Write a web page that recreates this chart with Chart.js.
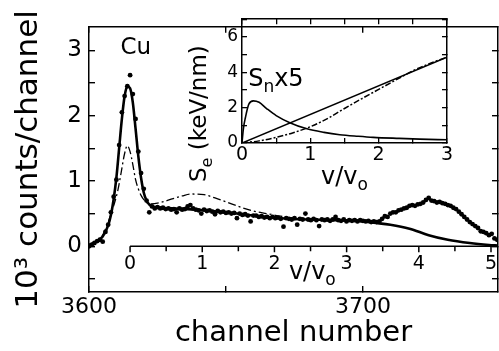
<!DOCTYPE html>
<html><head><meta charset="utf-8">
<script src="https://cdn.jsdelivr.net/npm/chart.js@4.4.0/dist/chart.umd.min.js"></script>
<style>
html,body{margin:0;padding:0;background:#fff;}
#wrap{position:relative;width:499px;height:351px;overflow:hidden;}
#main{position:absolute;left:0;top:0;}
#inset{position:absolute;left:180px;top:0;}
</style></head><body>
<div id="wrap">
<canvas id="main" width="499" height="351"></canvas>
<canvas id="inset" width="280" height="200"></canvas>
</div>
<script>
// ---------- main spectrum data ----------
const channels = [
3600,3601,3602,3603,3604,3605,3606,3607,3608,3609,3610,3611,3612,3613,3614,3615,3616,3617,3618,3619,3620,3621,3622,
3623,3624,3625,3626,3627,3628,3629,3630,3631,3632,3633,3634,3635,3636,3637,3638,3639,3640,3641,3642,3643,3644,3645,3646,3647,3648,3649,
3650,3651,3652,3653,3654,3655,3656,3657,3658,3659,3660,3661,3662,3663,3664,3665,3666,3667,3668,3669,3670,3671,3672,3673,3674,
3675,3676,3677,3678,3679,3680,3681,3682,3683,3684,3685,3686,3687,3688,3689,3690,3691,3692,3693,3694,3695,3696,3697,3698,3699,
3700,3701,3702,3703,3704,3705,3706,3707,3708,3709,3710,3711,3712,3713,3714,3715,3716,3717,3718,3719,3720,3721,3722,3723,3724,
3725,3726,3727,3728,3729,3730,3731,3732,3733,3734,3735,3736,3737,3738,3739,3740,3741,3742,3743,3744,3745,3746,3747,3748,3749];
const counts = [
0.00,0.02,0.05,0.08,0.10,0.07,0.22,0.33,0.52,0.76,1.02,1.55,2.05,2.30,2.45,2.62,2.33,1.95,1.45,1.12,0.88,0.70,0.52,
0.61,0.58,0.60,0.58,0.59,0.57,0.58,0.56,0.57,0.52,0.58,0.56,0.57,0.61,0.63,0.58,0.56,0.55,0.50,0.56,0.54,0.55,0.53,0.49,0.54,0.52,0.53,
0.51,0.52,0.50,0.51,0.43,0.50,0.48,0.49,0.47,0.38,0.47,0.47,0.45,0.46,0.44,0.45,0.43,0.45,0.43,0.44,0.42,0.30,0.43,0.42,0.41,
0.43,0.33,0.42,0.41,0.50,0.41,0.40,0.42,0.40,0.31,0.41,0.40,0.41,0.39,0.41,0.45,0.40,0.39,0.41,0.38,0.40,0.39,0.40,0.38,0.40,
0.39,0.38,0.39,0.37,0.38,0.37,0.38,0.42,0.46,0.45,0.50,0.52,0.52,0.55,0.56,0.58,0.59,0.62,0.63,0.62,0.64,0.65,0.67,0.71,0.74,
0.70,0.69,0.67,0.68,0.66,0.65,0.63,0.62,0.59,0.57,0.53,0.49,0.45,0.41,0.37,0.34,0.31,0.28,0.23,0.22,0.20,0.17,0.19,0.12,0.10];

// solid fit curve
const fitCh = [3600,3603,3605,3607,3608,3609,3610,3611,3612,3613,3614,3615,3616,3617,3618,3619,3620,3621,3622,3624,3630,3640,3650,3660,3670,3680,3690,3700,3704,3710,3717,3724,3731,3739,3746,3749.3];
const fitY  = [0.02,0.08,0.15,0.32,0.48,0.72,1.05,1.50,1.95,2.30,2.45,2.42,2.20,1.80,1.38,1.05,0.82,0.70,0.64,0.60,0.58,0.56,0.52,0.47,0.43,0.41,0.40,0.38,0.36,0.33,0.27,0.17,0.10,0.05,0.02,0.01];

// dash-dot curve
const altCh = [3600,3603,3605,3607,3609,3610.6,3611.7,3613,3614,3615,3616,3617,3618,3619,3620.3,3622,3626,3630,3634,3637,3642,3646,3652,3656,3660,3665,3670,3675,3680];
const altY  = [0.02,0.08,0.17,0.37,0.62,0.87,1.12,1.42,1.54,1.45,1.25,1.02,0.88,0.78,0.70,0.65,0.67,0.72,0.77,0.80,0.79,0.74,0.65,0.59,0.54,0.50,0.46,0.43,0.41];

// axes ticks / labels
const chTicks = [3600,3650,3700];
const chLabels = [3600,3700];
const yTicks = [-0.5,0,0.5,1,1.5,2,2.5,3];
const yLabels = [0,1,2,3];
const vTicks = [0,0.5,1,1.5,2,2.5,3,3.5,4,4.5,5];
const vLabels = [0,1,2,3,4,5];

// ---------- inset data ----------
const seV = [0,3];
const seY = [0,4.85];
const seAltV = [0,0.25,0.5,0.75,1,1.25,1.5,1.75,2,2.25,2.5,2.75,3];
const seAltY = [0,0.12,0.32,0.58,0.92,1.38,1.95,2.5,3.03,3.56,4.08,4.5,4.85];
const snV = [0,0.02,0.05,0.1,0.166,0.25,0.36,0.5,0.7,0.95,1.2,1.43,1.7,1.92,2.3,2.6,3];
const snY = [0,0.8,1.44,2.2,2.38,2.3,1.95,1.55,1.15,0.8,0.6,0.47,0.38,0.32,0.26,0.22,0.18];
const insXTicks = [0,0.5,1,1.5,2,2.5,3];
const insXLabels = [0,1,2,3];
const insYTicks = [0,1,2,3,4,5,6,7];
const insYLabels = [0,2,4,6];

const FONT = "'DejaVu Sans', 'Liberation Sans', sans-serif";
const BLACK = '#000';

function pts(xs, ys){ return xs.map((x,i)=>({x:x,y:ys[i]})); }
function setTicks(list){ return s => { s.ticks = list.map(v=>({value:v})); }; }

function frameAxis(pos, min, max, ticks, tl, lw){
  const isX = (pos==='top'||pos==='bottom');
  return {
    type:'linear', position:pos, min:min, max:max,
    afterBuildTicks: setTicks(ticks),
    afterFit: s => { if(isX) s.height = 0; else s.width = 0; },
    ticks:{display:false},
    grid:{drawOnChartArea:false, drawTicks:true, tickLength:tl, color:BLACK, lineWidth:lw},
    border:{display:true, color:BLACK, width:1.5}
  };
}

// ---------- main chart ----------
const mainPlugin = {
  id:'mainExtras',
  afterDatasetsDraw(chart){
    const ctx = chart.ctx, ca = chart.chartArea;
    const xv = chart.scales.xv, y = chart.scales.y;
    const y0 = y.getPixelForValue(0);
    ctx.save();
    ctx.strokeStyle = BLACK; ctx.lineWidth = 1.5;
    ctx.beginPath();
    ctx.moveTo(xv.getPixelForValue(vTicks[0]), y0);
    ctx.lineTo(ca.right, y0);
    vTicks.forEach(t => {
      const px = xv.getPixelForValue(t);
      ctx.moveTo(px, y0);
      ctx.lineTo(px, y0 + (vLabels.includes(t) ? 6 : 5));
    });
    ctx.stroke();
    ctx.fillStyle = BLACK;
    ctx.font = "19px " + FONT;
    ctx.textAlign = 'center'; ctx.textBaseline = 'middle';
    vLabels.forEach(t => ctx.fillText(String(t), xv.getPixelForValue(t), y0 + 18));
    // v/vo title
    const tx = xv.getPixelForValue(2.2), ty = y0 + 33;
    ctx.textAlign = 'left'; ctx.textBaseline = 'alphabetic';
    ctx.font = "24px " + FONT;
    ctx.fillText('v/v', tx, ty);
    const w = ctx.measureText('v/v').width;
    ctx.font = "17px " + FONT;
    ctx.fillText('o', tx + w, ty + 6);
    // Cu
    ctx.font = "23px " + FONT;
    ctx.textAlign = 'center';
    ctx.fillText('Cu', xv.getPixelForValue(0.08), 54);
    ctx.restore();
  }
};

new Chart(document.getElementById('main'), {
  type:'scatter',
  data:{ datasets:[
    { label:'counts', data: pts(channels, counts), pointRadius:2.4, pointBackgroundColor:BLACK, pointBorderWidth:0, showLine:false, order:2 },
    { label:'fit', type:'line', data: pts(fitCh, fitY), borderColor:BLACK, borderWidth:2.6, pointRadius:0, cubicInterpolationMode:'monotone', fill:false, order:1 },
    { label:'alt', type:'line', data: pts(altCh, altY), borderColor:BLACK, borderWidth:1.3, borderDash:[8,3,2,3], pointRadius:0, cubicInterpolationMode:'monotone', fill:false, order:1 }
  ]},
  options:{
    responsive:false, animation:false,
    devicePixelRatio:1,
    layout:{ padding:{left:0, top:20, right:1, bottom:0}, autoPadding:false },
    plugins:{ legend:{display:false}, tooltip:{enabled:false} },
    scales:{
      x:{
        type:'linear', position:'bottom', min:3600, max:3749.3,
        afterBuildTicks: setTicks(chTicks),
        afterFit: s => { s.height = 59; },
        ticks:{ color:BLACK, font:{family:FONT, size:22}, padding:8, maxRotation:0, autoSkip:false,
          callback: v => chLabels.includes(v) ? String(v) : '' },
        grid:{drawOnChartArea:false, drawTicks:true, tickLength:-6, color:BLACK, lineWidth:1.4},
        border:{display:true, color:BLACK, width:1.5},
        title:{ display:true, text:'channel number', color:BLACK, font:{family:FONT, size:29}, padding:{top:0,bottom:0} }
      },
      y:{
        type:'linear', position:'left', min:-0.7, max:3.36,
        afterBuildTicks: setTicks(yTicks),
        afterFit: s => { s.width = 89; },
        ticks:{ color:BLACK, font:{family:FONT, size:23}, padding:13, autoSkip:false,
          callback: v => yLabels.includes(v) ? String(v) : '' },
        grid:{drawOnChartArea:false, drawTicks:true, tickLength:-6, color:BLACK, lineWidth:1.4},
        border:{display:true, color:BLACK, width:1.5},
        title:{ display:true, text:'10\u00B3 counts/channel', color:BLACK, font:{family:FONT, size:31}, padding:{top:10,bottom:0} }
      },
      xTop: frameAxis('top', 3600, 3749.3, chTicks, -6, 1.4),
      yRight: frameAxis('right', -0.7, 3.36, yTicks, -6, 1.4),
      xv:{ type:'linear', display:false, min:-0.569, max:5.097, position:'bottom' }
    }
  },
  plugins:[mainPlugin]
});

// ---------- inset chart ----------
const insetPlugin = {
  id:'insetExtras',
  afterDraw(chart){
    const ctx = chart.ctx, ca = chart.chartArea;
    const x = chart.scales.x, y = chart.scales.y;
    ctx.save();
    ctx.fillStyle = BLACK;
    ctx.textBaseline = 'alphabetic'; ctx.textAlign = 'left';
    // Sn x5
    let sx = x.getPixelForValue(0.09), sy = y.getPixelForValue(3.2);
    ctx.font = "24px " + FONT; ctx.fillText('S', sx, sy);
    sx += ctx.measureText('S').width;
    ctx.font = "17px " + FONT; ctx.fillText('n', sx, sy + 6);
    sx += ctx.measureText('n').width;
    ctx.font = "24px " + FONT; ctx.fillText('x5', sx, sy);
    // x title v/vo
    ctx.font = "24px " + FONT;
    const w1 = ctx.measureText('v/v').width;
    ctx.font = "17px " + FONT;
    const w2 = ctx.measureText('o').width;
    const cx = (ca.left + ca.right) / 2 - (w1 + w2) / 2;
    const by = ca.bottom + 41;
    ctx.font = "24px " + FONT; ctx.fillText('v/v', cx, by);
    ctx.font = "17px " + FONT; ctx.fillText('o', cx + w1, by + 6);
    // y title Se (keV/nm)
    ctx.translate(ca.left - 36, ca.bottom + 39);
    ctx.rotate(-Math.PI/2);
    let tx = 0;
    ctx.font = "23px " + FONT; ctx.fillText('S', tx, 0);
    tx += ctx.measureText('S').width;
    ctx.font = "16px " + FONT; ctx.fillText('e', tx, 6);
    tx += ctx.measureText('e').width;
    ctx.font = "23px " + FONT; ctx.fillText(' (keV/nm)', tx, 0);
    ctx.restore();
  }
};

new Chart(document.getElementById('inset'), {
  type:'scatter',
  data:{ datasets:[
    { label:'Se', type:'line', data: pts(seV, seY), borderColor:BLACK, borderWidth:1.6, pointRadius:0, fill:false },
    { label:'Se alt', type:'line', data: pts(seAltV, seAltY), borderColor:BLACK, borderWidth:1.5, borderDash:[6,2,2,2], pointRadius:0, cubicInterpolationMode:'monotone', fill:false },
    { label:'Sn x5', type:'line', data: pts(snV, snY), borderColor:BLACK, borderWidth:1.6, pointRadius:0, cubicInterpolationMode:'monotone', fill:false }
  ]},
  options:{
    responsive:false, animation:false,
    devicePixelRatio:1,
    layout:{ padding:{left:0, top:19, right:13, bottom:0}, autoPadding:false },
    plugins:{ legend:{display:false}, tooltip:{enabled:false} },
    scales:{
      x:{
        type:'linear', position:'bottom', min:0, max:3,
        afterBuildTicks: setTicks(insXTicks),
        afterFit: s => { s.height = 57; },
        ticks:{ color:BLACK, font:{family:FONT, size:19}, padding:6, maxRotation:0, autoSkip:false,
          callback: v => insXLabels.includes(v) ? String(v) : '' },
        grid:{drawOnChartArea:false, drawTicks:true, tickLength:-5, color:BLACK, lineWidth:1.3},
        border:{display:true, color:BLACK, width:1.5}
      },
      y:{
        type:'linear', position:'left', min:0, max:7,
        afterBuildTicks: setTicks(insYTicks),
        afterFit: s => { s.width = 62; },
        ticks:{ color:BLACK, font:{family:FONT, size:17}, padding:9, autoSkip:false,
          callback: v => insYLabels.includes(v) ? String(v) : '' },
        grid:{drawOnChartArea:false, drawTicks:true, tickLength:-5, color:BLACK, lineWidth:1.3},
        border:{display:true, color:BLACK, width:1.5}
      },
      xTop: frameAxis('top', 0, 3, insXTicks, -5, 1.3),
      yRight: frameAxis('right', 0, 7, insYTicks, -5, 1.3)
    }
  },
  plugins:[insetPlugin]
});
</script>
</body></html>
